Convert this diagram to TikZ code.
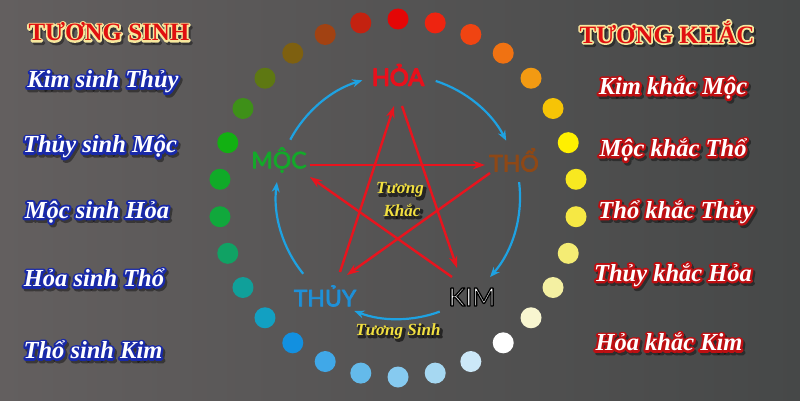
\documentclass[tikz,border=0pt]{standalone}
\usepackage{fontspec}
\setmainfont{Liberation Serif}
\newfontfamily\elemfont{Lato}
\usetikzlibrary{arrows.meta,calc}
\definecolor{bgL}{RGB}{99,95,95}
\definecolor{bgR}{RGB}{70,72,72}
\definecolor{sinhblue}{HTML}{1EA2E2}
\definecolor{khacred}{HTML}{E8141E}
\definecolor{hoared}{HTML}{E8101C}
\definecolor{mocgreen}{HTML}{14A82A}
\definecolor{thobrown}{HTML}{8E4816}
\definecolor{thuyblue}{HTML}{1E90D8}
\definecolor{labyellow}{HTML}{F2E040}
\definecolor{titlered}{HTML}{E01010}
% ring dot colours, clockwise from top
\definecolor{dot0}{HTML}{E40606}
\definecolor{dot1}{HTML}{EE2410}
\definecolor{dot2}{HTML}{F04412}
\definecolor{dot3}{HTML}{F07212}
\definecolor{dot4}{HTML}{F29A12}
\definecolor{dot5}{HTML}{F6C406}
\definecolor{dot6}{HTML}{FFF000}
\definecolor{dot7}{HTML}{F8E820}
\definecolor{dot8}{HTML}{F6E844}
\definecolor{dot9}{HTML}{F4EC74}
\definecolor{dot10}{HTML}{F4F0A2}
\definecolor{dot11}{HTML}{F8F6D0}
\definecolor{dot12}{HTML}{FFFFFF}
\definecolor{dot13}{HTML}{CCE8F8}
\definecolor{dot14}{HTML}{A6D8F2}
\definecolor{dot15}{HTML}{86CAF0}
\definecolor{dot16}{HTML}{64BAEA}
\definecolor{dot17}{HTML}{40A8E8}
\definecolor{dot18}{HTML}{1290E0}
\definecolor{dot19}{HTML}{12A0C2}
\definecolor{dot20}{HTML}{10A09A}
\definecolor{dot21}{HTML}{10A264}
\definecolor{dot22}{HTML}{10A83C}
\definecolor{dot23}{HTML}{10AA28}
\definecolor{dot24}{HTML}{12B012}
\definecolor{dot25}{HTML}{3E9018}
\definecolor{dot26}{HTML}{5E7812}
\definecolor{dot27}{HTML}{7E6010}
\definecolor{dot28}{HTML}{A24212}
\definecolor{dot29}{HTML}{C42210}
\makeatletter
% stroked (outline-only) text: #1 = stroke colour as "r g b", #2 = width, #3 = text
\newcommand{\strk}[3]{\pgfsys@invoke{q #1 RG #2 w 1 j 1 J 1 Tr}#3\pgfsys@invoke{Q}}
% filled + stroked text
\newcommand{\fstrk}[3]{\pgfsys@invoke{q #1 RG #2 w 1 j 1 J 2 Tr}#3\pgfsys@invoke{Q}}
\makeatother
\tikzset{
  sinh/.style={draw=sinhblue, line width=2.2pt, -{Stealth[length=10pt,width=8pt]}},
  khac/.style={draw=khacred, line width=2.4pt, -{Stealth[length=12pt,width=8.5pt]}},
  item/.style={inner sep=0pt, text=white, font=\fontsize{24.5}{28}\selectfont\bfseries\itshape},
  titletxt/.style={inner sep=0pt, text=titlered, font=\fontsize{25}{28}\selectfont\bfseries},
  midtxt/.style={inner sep=0pt, text=labyellow, font=\fontsize{17}{20}\selectfont\bfseries\itshape},
  elem/.style={inner sep=0pt, font=\elemfont\fontsize{23}{26}\selectfont},
}
% #1 name, #2 position, #3 style, #4 glow colour (r g b), #5 glow width, #6 text
\newcommand{\glowtxt}[6]{%
  \node[#3,opacity=.4] at ($(#2)+(2,-2.5)$) {\strk{0 0 0}{#5}{#6}};
  \node[#3] at (#2) {\strk{#4}{#5}{#6}};
  \node[#3] (#1) at (#2) {#6};}
\begin{document}
\begin{tikzpicture}[x=1pt,y=1pt]
\useasboundingbox (0,0) rectangle (800,400);
\shade[left color=bgL, right color=bgR] (0,0) rectangle (800,400);
% ring of dots
\foreach \k in {0,...,29}{
  \fill[color=dot\k] ({398+179*cos(90-12*\k)},{202+179*sin(90-12*\k)}) circle (10.5);
}
% centre
\coordinate (C) at (398,203);
% elements
\node[elem, font=\elemfont\fontsize{23.5}{26}\selectfont, text=hoared] (hoa) at (398,325) {\fstrk{0.91 0.063 0.11}{1.3}{HỎA}};
\node[elem, text=thobrown] (tho) at (514,240) {\fstrk{0.557 0.282 0.086}{0.8}{THỔ}};
\node[elem, text=mocgreen] (moc) at (279,240) {\fstrk{0.08 0.66 0.165}{0.7}{MỘC}};
\node[elem, text=thuyblue] (thuy) at (325,104) {\fstrk{0.118 0.565 0.847}{0.7}{THỦY}};
\node[elem, font=\elemfont\fontsize{25}{28}\selectfont, text=white] (kim) at (472,103) {\fstrk{0 0 0}{1.3}{KIM}};
% sinh cycle (blue arcs)
\draw[sinh] ($(C)+(152:122)$) coordinate (mocA) arc[start angle=152, end angle=107, radius=122] coordinate (hoaA);
\draw[sinh] ($(C)+(72:122)$) coordinate (hoaB) arc[start angle=72, end angle=27.5, radius=122] coordinate (thoA);
\draw[sinh] ($(C)+(7:122)$) coordinate (thoB) arc[start angle=7, end angle=-41, radius=122] coordinate (kimA);
\draw[sinh] ($(C)+(-70:122)$) coordinate (kimB) arc[start angle=-70, end angle=-111, radius=122] coordinate (thuyA);
\draw[sinh] ($(C)+(219:122)$) coordinate (thuyB) arc[start angle=219, end angle=173, radius=122] coordinate (mocB);
% khac star (red arrows)
\coordinate (mocR1) at (310,235);
\coordinate (thoL1) at (485,235);
\coordinate (kimS) at (452,123);
\coordinate (mocR2) at (310,223);
\coordinate (thoS) at (490,227);
\coordinate (thuyE) at (347,125);
\coordinate (thuyS) at (340,128);
\coordinate (hoaE) at (394,294);
\coordinate (hoaS) at (402,294);
\coordinate (kimE) at (457,132);
\draw[khac] (mocR1) -- (thoL1);
\draw[khac] (kimS) -- (mocR2);
\draw[khac] (thoS) -- (thuyE);
\draw[khac] (thuyS) -- (hoaE);
\draw[khac] (hoaS) -- (kimE);
% centre labels
\node[midtxt,opacity=.55] at (402,208) {\strk{0 0 0}{2.4}{Tương}};
\node[midtxt] (tuongk) at (400,210) {Tương};
\node[midtxt,opacity=.55] at (404,188) {\strk{0 0 0}{2.4}{Khắc}};
\node[midtxt] (khac) at (402,190) {Khắc};
\node[midtxt,opacity=.55] at (400,67) {\strk{0 0 0}{2.4}{Tương Sinh}};
\node[midtxt] (tsinh) at (398,69) {Tương Sinh};
% left column
\glowtxt{tsTitle}{109,368}{titletxt}{0.97 0.91 0.62}{3.4}{TƯƠNG SINH}
\glowtxt{ls1}{103,318}{item}{0.10 0.16 0.66}{4.2}{Kim sinh Thủy}
\glowtxt{ls2}{100,253}{item}{0.10 0.16 0.66}{4.2}{Thủy sinh Mộc}
\glowtxt{ls3}{97,188}{item}{0.10 0.16 0.66}{4.2}{Mộc sinh Hỏa}
\glowtxt{ls4}{94,122}{item}{0.10 0.16 0.66}{4.2}{Hỏa sinh Thổ}
\glowtxt{ls5}{93,50}{item}{0.10 0.16 0.66}{4.2}{Thổ sinh Kim}
% right column
\glowtxt{tkTitle}{667,368}{titletxt}{0.97 0.91 0.62}{3.4}{TƯƠNG KHẮC}
\glowtxt{rk1}{673,312}{item}{0.74 0.06 0.07}{4.2}{Kim khắc Mộc}
\glowtxt{rk2}{673,250}{item}{0.74 0.06 0.07}{4.2}{Mộc khắc Thổ}
\glowtxt{rk3}{676,188}{item}{0.74 0.06 0.07}{4.2}{Thổ khắc Thủy}
\glowtxt{rk4}{673,125}{item}{0.74 0.06 0.07}{4.2}{Thủy khắc Hỏa}
\glowtxt{rk5}{669,58}{item}{0.74 0.06 0.07}{4.2}{Hỏa khắc Kim}
\end{tikzpicture}
\end{document}
